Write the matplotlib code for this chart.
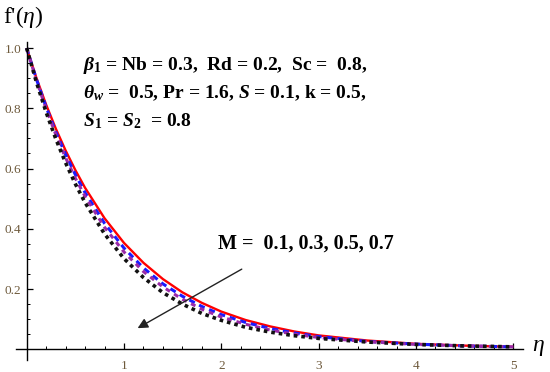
import matplotlib
matplotlib.use('Agg')
import matplotlib.pyplot as plt
import numpy as np

plt.rcParams['font.family'] = ['Liberation Serif', 'DejaVu Serif']
plt.rcParams['mathtext.fontset'] = 'custom'
plt.rcParams['mathtext.it'] = 'Liberation Serif:italic'
plt.rcParams['mathtext.rm'] = 'Liberation Serif'
plt.rcParams['mathtext.bf'] = 'Liberation Serif:bold:italic'
plt.rcParams['mathtext.sf'] = 'Liberation Serif:bold'

# eta grid and f'(eta), one list per M value
eta = [0, 0.1, 0.2, 0.3, 0.4, 0.5, 0.6, 0.8, 1.0, 1.2, 1.4, 1.6, 1.8, 2.0,
       2.25, 2.5, 2.75, 3.0, 3.5, 4.0, 4.5, 5.0]
f_m01 = [1.000, 0.901, 0.812, 0.732, 0.660, 0.595, 0.536, 0.435, 0.353, 0.287,
         0.233, 0.189, 0.154, 0.125, 0.097, 0.076, 0.059, 0.046, 0.029, 0.018,
         0.012, 0.008]
f_m03 = [1.000, 0.897, 0.804, 0.721, 0.647, 0.580, 0.520, 0.418, 0.336, 0.270,
         0.217, 0.176, 0.142, 0.115, 0.089, 0.069, 0.054, 0.042, 0.026, 0.017,
         0.011, 0.008]
f_m05 = [1.000, 0.893, 0.798, 0.712, 0.636, 0.568, 0.508, 0.405, 0.323, 0.258,
         0.207, 0.166, 0.133, 0.107, 0.083, 0.064, 0.050, 0.039, 0.025, 0.016,
         0.011, 0.008]
f_m07 = [1.000, 0.887, 0.787, 0.698, 0.619, 0.549, 0.487, 0.383, 0.301, 0.238,
         0.188, 0.150, 0.119, 0.096, 0.073, 0.057, 0.045, 0.036, 0.024, 0.016,
         0.011, 0.008]

fig = plt.figure(figsize=(5.5, 3.72), dpi=100)
ax = fig.add_axes([0.029, 0.032, 0.922, 0.855])

ax.plot(eta, f_m01, color='#ff0000', lw=1.7, solid_capstyle='butt')
ax.plot(eta, f_m03, color='#1a1aff', lw=2.2, linestyle=(0, (2.0, 1.6)))
ax.plot(eta, f_m05, color='#9a2aa8', lw=2.2, linestyle=(0, (1.6, 1.6)))
ax.plot(eta, f_m07, color='#111111', lw=2.6, linestyle=(0, (1.0, 1.1)))

ax.set_xlim(-0.11, 5.1)
ax.set_ylim(-0.036, 1.02)

for s in ['top', 'right']:
    ax.spines[s].set_visible(False)
ax.spines['left'].set_position(('data', 0))
ax.spines['bottom'].set_position(('data', 0))
ax.spines['left'].set_linewidth(1.0)
ax.spines['bottom'].set_linewidth(1.0)

ax.set_xticks([1, 2, 3, 4, 5])
ax.set_xticks(np.arange(0.2, 5.01, 0.2), minor=True)
ax.set_yticks([0.2, 0.4, 0.6, 0.8, 1.0])
ax.set_yticks(np.arange(0.05, 1.001, 0.05), minor=True)
ax.set_yticklabels(['0.2', '0.4', '0.6', '0.8', '1.0'])
ax.tick_params(which='major', direction='in', length=4.5, width=0.9,
               labelsize=9.5, labelcolor='#6e5a3c')
ax.tick_params(axis='x', which='major', pad=8)
ax.tick_params(axis='y', which='major', pad=4)
ax.tick_params(which='minor', direction='in', length=2.5, width=0.7)

fig.text(0.005, 0.955, r"f'($\eta$)", fontsize=17, va='center', ha='left')
fig.text(0.978, 0.065, r'$\eta$', fontsize=17, va='center', ha='center')

fs = 14
fig.text(0.151, 0.825,
         r'$\mathbf{\beta}_{\mathsf{1}}$ = Nb = 0.3,  Rd = 0.2,  Sc =  0.8,',
         fontsize=fs, fontweight='bold', va='center', ha='left')
fig.text(0.151, 0.75,
         r'$\mathbf{\theta}_{\mathbf{w}}$ =  0.5, Pr = 1.6, $\mathbf{S}$ = 0.1, k = 0.5,',
         fontsize=fs, fontweight='bold', va='center', ha='left')
fig.text(0.151, 0.675,
         r'$\mathbf{S}_{\mathsf{1}}$ = $\mathbf{S}_{\mathsf{2}}$  = 0.8',
         fontsize=fs, fontweight='bold', va='center', ha='left')

ax.text(1.97, 0.35, 'M =  0.1, 0.3, 0.5, 0.7', fontsize=14.5,
        fontweight='bold', va='center', ha='left')
ax.annotate('', xy=(1.14, 0.07), xytext=(2.21, 0.266),
            arrowprops=dict(arrowstyle='-|>', color='#222222', lw=1.0,
                            mutation_scale=15, shrinkA=0, shrinkB=0))

fig.savefig('out.png', dpi=100)
